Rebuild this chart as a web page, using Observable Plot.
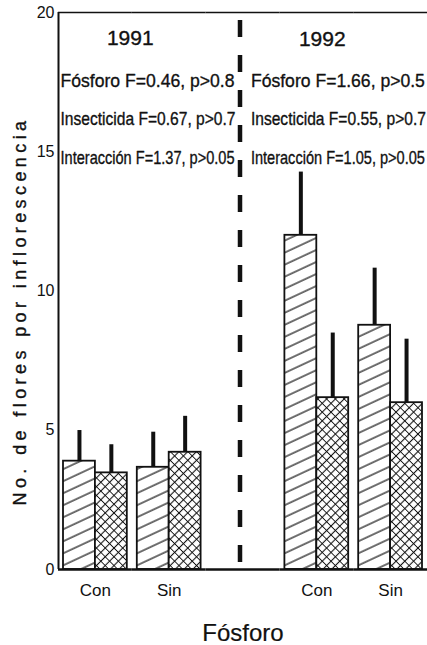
<!DOCTYPE html>
<html>
<head>
<meta charset="utf-8">
<script src="https://cdn.jsdelivr.net/npm/d3@7"></script>
<script src="https://cdn.jsdelivr.net/npm/@observablehq/plot@0.6"></script>
<style>
  html, body { margin: 0; padding: 0; background: #fff; }
  svg { display: block; }
</style>
</head>
<body>
<div id="chart"></div>
<script>
// ---------- data ----------
const years = ["1991", "1992"];
const phosphorus = ["Con", "Sin"];          // Fósforo groups (x axis)
const insecticide = ["Con", "Sin"];         // hatched / cross-hatched bars
// mean flowers per inflorescence  [phosphorus][insecticide]
const means1991 = [[3.89, 3.47], [3.67, 4.21]];
const means1992 = [[12.0, 6.17], [8.77, 5.99]];
// top of error bars
const upper1991 = [[4.99, 4.48], [4.93, 5.50]];
const upper1992 = [[14.27, 8.49], [10.82, 8.27]];
const yTicks = [0, 5, 10, 15, 20];
const stats1991 = ["Fósforo F=0.46, p>0.8", "Insecticida F=0.67, p>0.7", "Interacción F=1.37, p>0.05"];
const stats1992 = ["Fósforo F=1.66, p>0.5", "Insecticida F=0.55, p>0.7", "Interacción F=1.05, p>0.05"];
const yLabel = "No. de flores por inflorescencia";
const xLabel = "Fósforo";

// ---------- derived tables ----------
const means = [means1991, means1992];
const uppers = [upper1991, upper1992];
const SEP = "sep";
const groupKey = (y, p) => `${y}|${p}`;
const fxDomain = [
  ...phosphorus.map(p => groupKey(years[0], p)),
  SEP,
  ...phosphorus.map(p => groupKey(years[1], p))
];
const phosLabel = new Map(years.flatMap(y => phosphorus.map(p => [groupKey(y, p), p])));
const rows = years.flatMap((yr, yi) => phosphorus.flatMap((ph, pi) => insecticide.map((ins, ii) => ({
  group: groupKey(yr, ph), year: yr, phos: ph, insect: ins,
  mean: means[yi][pi][ii], upper: uppers[yi][pi][ii]
}))));

// ---------- layout / style ----------
const W = 427, H = 645;
const M = {top: 12, right: 0, bottom: 76, left: 58};
const facetW = (W - M.left - M.right) / fxDomain.length;
const ink = "#111";
const font = "'Liberation Sans', Arial, Helvetica, sans-serif";
const txt = {fill: ink, stroke: ink, strokeWidth: 0.35};

const statMarks = [];
[[stats1991, 0, 2], [stats1992, 1, -29]].forEach(([lines, yi, dx]) =>
  lines.forEach((line, i) => statMarks.push(
    Plot.text([line], {
      fx: () => groupKey(years[yi], phosphorus[0]),
      frameAnchor: "top-left", textAnchor: "start", lineAnchor: "middle",
      dx, dy: 68 + i * 38.5, fontSize: 19, ...txt, ariaLabel: () => `stat-${i}`
    })
  ))
);

const chart = Plot.plot({
  width: W, height: H,
  marginTop: M.top, marginRight: M.right, marginBottom: M.bottom, marginLeft: M.left,
  style: {fontFamily: font, background: "#fff", color: ink, overflow: "visible"},
  fx: {domain: fxDomain, padding: 0, round: false},
  x: {domain: insecticide, padding: 0, insetLeft: 5, insetRight: 5, round: false, axis: null},
  y: {domain: [0, 20]},
  marks: [
    // frame lines
    Plot.ruleY([20], {stroke: ink, strokeWidth: 1.6}),
    Plot.ruleX([fxDomain[0]], {fx: d => d, x: null, dx: -facetW / 2, stroke: ink, strokeWidth: 2}),
    // bars
    Plot.barY(rows.filter(d => d.insect === insecticide[0]), {
      fx: "group", x: "insect", y: "mean", fill: "url(#hatchDiag)", stroke: ink, strokeWidth: 1.8
    }),
    Plot.barY(rows.filter(d => d.insect === insecticide[1]), {
      fx: "group", x: "insect", y: "mean", fill: "url(#hatchCross)", stroke: ink, strokeWidth: 1.8
    }),
    // error bars
    Plot.ruleX(rows, {fx: "group", x: "insect", y1: "mean", y2: "upper", stroke: ink, strokeWidth: 4}),
    Plot.ruleY([0], {stroke: ink, strokeWidth: 2.4}),
    // dashed year separator
    Plot.ruleX([SEP], {fx: d => d, x: null, dx: -3, insetTop: 8, stroke: ink, strokeWidth: 4.5, strokeDasharray: "17,18"}),
    // axes
    Plot.axisY({ticks: yTicks, tickSize: 0, tickPadding: 4, fontSize: 16, label: null}),
    Plot.axisFx({anchor: "bottom", tickSize: 0, tickPadding: 14, fontSize: 17,
      tickFormat: d => phosLabel.get(d) ?? "", label: null}),
    // titles
    Plot.text([yLabel], {fx: () => fxDomain[0], frameAnchor: "left", rotate: -90, dx: -38, dy: 20,
      textAnchor: "middle", lineAnchor: "middle", fontSize: 18, ...txt, ariaLabel: () => "ylabel"}),
    Plot.text([xLabel], {fx: () => SEP, frameAnchor: "bottom", dy: 71, lineAnchor: "bottom",
      fontSize: 24, ...txt, strokeWidth: 0.2}),
    Plot.text([years[0]], {fx: () => groupKey(years[0], phosphorus[0]), frameAnchor: "top-right",
      textAnchor: "middle", dx: -2, dy: 26, lineAnchor: "middle", fontSize: 21, ...txt}),
    Plot.text([years[1]], {fx: () => groupKey(years[1], phosphorus[0]), frameAnchor: "top",
      textAnchor: "middle", dx: 5.5, dy: 27, lineAnchor: "middle", fontSize: 21, ...txt}),
    ...statMarks
  ]
});

document.getElementById("chart").appendChild(chart);

// ---------- patterns & text fitting ----------
const svg = d3.select(chart);
const defs = svg.insert("defs", ":first-child");
const diag = defs.append("pattern").attr("id", "hatchDiag").attr("patternUnits", "userSpaceOnUse")
  .attr("width", 10).attr("height", 10.9).attr("patternTransform", "rotate(-25)");
diag.append("rect").attr("width", 10).attr("height", 10.9).attr("fill", "#fff");
diag.append("line").attr("x1", 0).attr("x2", 10).attr("y1", 5).attr("y2", 5)
  .attr("stroke", ink).attr("stroke-width", 1.2);
const cross = defs.append("pattern").attr("id", "hatchCross").attr("patternUnits", "userSpaceOnUse")
  .attr("width", 6.2).attr("height", 6.2).attr("patternTransform", "rotate(45)");
cross.append("rect").attr("width", 6.2).attr("height", 6.2).attr("fill", "#fff");
cross.append("path").attr("d", "M0,3.1H6.2M3.1,0V6.2").attr("stroke", ink).attr("stroke-width", 1.1);

function textsOf(label) {
  const out = [];
  svg.selectAll(`[aria-label="${label}"]`).each(function () {
    if (this.tagName.toLowerCase() === "text") out.push(this);
    else d3.select(this).selectAll("text").each(function () { out.push(this); });
  });
  return d3.selectAll(out);
}
// condensed statistics lines, as in the original figure
const statLengths = [174, 175, 174];
statLengths.forEach((len, i) =>
  textsOf(`stat-${i}`).attr("textLength", len).attr("lengthAdjust", "spacingAndGlyphs"));
// widen the rotated axis title with letter spacing (keeps it centred)
textsOf("ylabel").attr("letter-spacing", "4.4px");
</script>
</body>
</html>
